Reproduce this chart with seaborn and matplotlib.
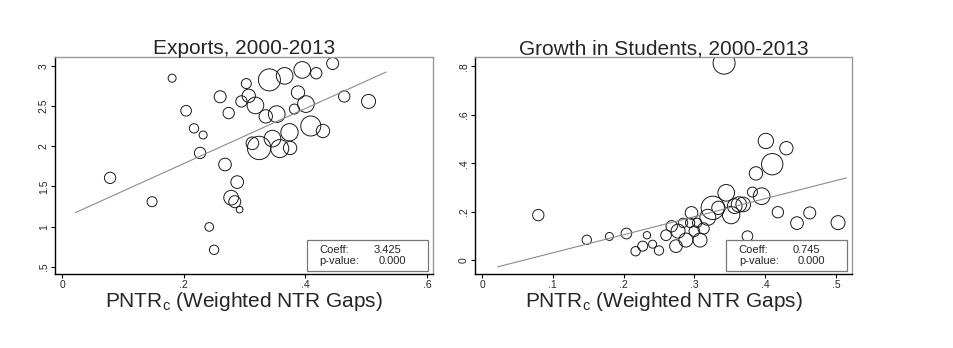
import numpy as np
import pandas as pd
import matplotlib
matplotlib.use("Agg")
import matplotlib.pyplot as plt
from matplotlib.patches import Rectangle
import seaborn as sns

# ---------------- data ----------------
x_exp = [0.079, 0.148, 0.181, 0.204, 0.217, 0.232, 0.227, 0.242, 0.250, 0.260,
         0.274, 0.268, 0.288, 0.278, 0.284, 0.292, 0.303, 0.307, 0.295, 0.318,
         0.313, 0.324, 0.335, 0.341, 0.353, 0.346, 0.358, 0.366, 0.374, 0.375,
         0.382, 0.388, 0.401, 0.395, 0.409, 0.418, 0.429, 0.445, 0.464, 0.504]
y_exp = [1.607, 1.310, 2.847, 2.442, 2.223, 2.140, 1.917, 0.996, 0.711, 2.616,
         2.413, 1.773, 1.554, 1.360, 1.310, 1.211, 2.780, 2.628, 2.558, 2.508,
         2.037, 1.979, 2.372, 2.826, 2.400, 2.095, 1.971, 2.876, 2.174, 1.979,
         2.463, 2.669, 2.525, 2.950, 2.252, 2.909, 2.190, 3.030, 2.620, 2.558]
w_exp = [17, 15, 12, 16, 14, 12, 17, 13, 14, 18,
         17, 19, 19, 22, 18, 10, 15, 20, 17, 25,
         19, 35, 20, 33, 25, 25, 27, 25, 26, 20,
         15, 20, 25, 25, 30, 17, 20, 18, 17, 21]

x_stu = [0.0795, 0.148, 0.180, 0.204, 0.217, 0.227, 0.233, 0.241, 0.250, 0.260,
         0.268, 0.274, 0.277, 0.284, 0.288, 0.296, 0.294, 0.300, 0.304, 0.308,
         0.313, 0.319, 0.326, 0.334, 0.342, 0.345, 0.352, 0.357, 0.363, 0.369,
         0.375, 0.382, 0.387, 0.395, 0.401, 0.410, 0.418, 0.430, 0.445, 0.463, 0.503]
y_stu = [0.186, 0.084, 0.098, 0.110, 0.037, 0.058, 0.103, 0.066, 0.040, 0.103,
         0.140, 0.058, 0.120, 0.154, 0.083, 0.195, 0.154, 0.120, 0.154, 0.083,
         0.131, 0.177, 0.216, 0.216, 0.813, 0.278, 0.186, 0.223, 0.230, 0.230,
         0.099, 0.281, 0.358, 0.264, 0.492, 0.396, 0.198, 0.462, 0.153, 0.195, 0.155]
w_stu = [17, 14, 12, 16, 14, 15, 11, 12, 14, 16,
         17, 19, 21, 14, 21, 19, 14, 16, 14, 21,
         17, 24, 35, 20, 33, 25, 26, 22, 23, 22,
         16, 15, 20, 25, 23, 32, 17, 20, 19, 18, 21]

titles = ["Exports, 2000-2013", "Growth in Students, 2000-2013"]
coefs = [3.425, 0.745]
intercepts = [1.099, -0.044]
fit_ranges = [(0.022, 0.533), (0.022, 0.515)]
pvalues = [0.000, 0.000]

x_ticks = [[0, 0.2, 0.4, 0.6], [0, 0.1, 0.2, 0.3, 0.4, 0.5]]
x_ticklabels = [["0", ".2", ".4", ".6"], ["0", ".1", ".2", ".3", ".4", ".5"]]
y_ticks = [[0.5, 1, 1.5, 2, 2.5, 3], [0, 0.2, 0.4, 0.6, 0.8]]
y_ticklabels = [[".5", "1", "1.5", "2", "2.5", "3"], ["0", ".2", ".4", ".6", ".8"]]

# ---------------- style ----------------
sns.set_style("white")
plt.rcParams["font.family"] = ["Liberation Sans", "DejaVu Sans"]
plt.rcParams["mathtext.fontset"] = "custom"
plt.rcParams["mathtext.rm"] = "Liberation Sans"
plt.rcParams["mathtext.it"] = "Liberation Sans"

fig = plt.figure(figsize=(9.54, 3.48), dpi=100)
ax1 = fig.add_axes([0.0577, 0.2126, 0.3962, 0.6234])
ax2 = fig.add_axes([0.4979, 0.2126, 0.3951, 0.6234])

frames = [
    pd.DataFrame({"x": x_exp, "y": y_exp, "w": np.array(w_exp) ** 2}),
    pd.DataFrame({"x": x_stu, "y": y_stu, "w": np.array(w_stu) ** 2}),
]
xlims = [(-0.0115, 0.610), (-0.0099, 0.5226)]
ylims = [(0.41, 3.11), (-0.057, 0.838)]

wmax = 40 ** 2
for i, ax in enumerate([ax1, ax2]):
    df = frames[i]
    sns.scatterplot(data=df, x="x", y="y", size="w", sizes=(0, 0.2304 * wmax),
                    size_norm=(0, wmax), facecolor="none", edgecolor="#1a1a1a",
                    linewidth=0.7, legend=False, ax=ax)
    x0, x1 = fit_ranges[i]
    fx = np.array([x0, x1])
    fy = intercepts[i] + coefs[i] * fx
    sns.lineplot(x=fx, y=fy, color="#8c8c8c", linewidth=0.8, ax=ax)

    ax.set_xlim(*xlims[i])
    ax.set_ylim(*ylims[i])
    ax.set_xticks(x_ticks[i])
    ax.set_xticklabels(x_ticklabels[i], fontsize=7.5)
    ax.set_yticks(y_ticks[i])
    ax.set_yticklabels(y_ticklabels[i], fontsize=7.5, rotation=90, va="center")
    ax.tick_params(axis="both", length=3, width=0.8, color="black",
                   pad=1.5, direction="out", bottom=True, left=True)
    for side in ["left", "bottom"]:
        ax.spines[side].set_color("black")
        ax.spines[side].set_linewidth(1.0)
    for side in ["top", "right"]:
        ax.spines[side].set_color("#9a9a9a")
        ax.spines[side].set_linewidth(1.0)
    ax.set_title(titles[i], fontsize=15, pad=2)
    ax.set_xlabel(r"PNTR$_\mathregular{c}$ (Weighted NTR Gaps)", fontsize=15, labelpad=0)
    ax.set_ylabel("")

    rect = Rectangle((0.667, 0.014), 0.32, 0.143, transform=ax.transAxes,
                     facecolor="white", edgecolor="#777777", linewidth=0.9, zorder=5)
    ax.add_patch(rect)
    ax.text(0.70, 0.113, "Coeff:", transform=ax.transAxes, fontsize=8,
            va="center", ha="left", zorder=6)
    ax.text(0.70, 0.058, "p-value:", transform=ax.transAxes, fontsize=8,
            va="center", ha="left", zorder=6)
    ax.text(0.915, 0.113, f"{coefs[i]:.3f}", transform=ax.transAxes, fontsize=8,
            va="center", ha="right", zorder=6)
    ax.text(0.93, 0.058, f"{pvalues[i]:.3f}", transform=ax.transAxes, fontsize=8,
            va="center", ha="right", zorder=6)

fig.savefig("out.png", dpi=100)
